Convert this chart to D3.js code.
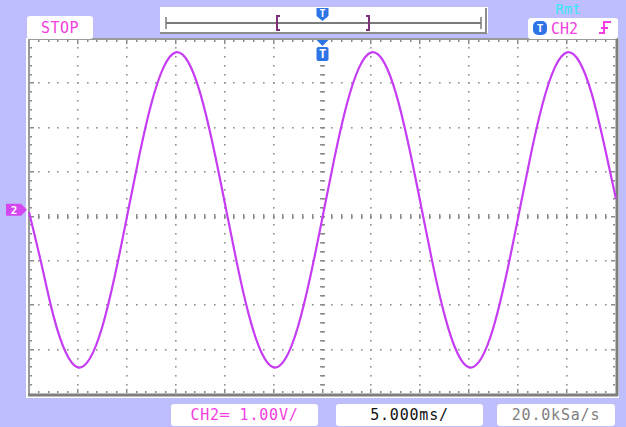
<!DOCTYPE html>
<html>
<head>
<meta charset="utf-8">
<script src="https://cdn.jsdelivr.net/npm/d3@7"></script>
<style>
  html, body { margin: 0; padding: 0; background: #bebefc; }
  svg { display: block; }
  text { font-family: "DejaVu Sans Mono", monospace; }
</style>
</head>
<body>
<svg id="chart" width="626" height="427"></svg>
<script>
// scope readout: CH2, 1.00 V/div, 5.000 ms/div
const timeMs = [-30, -28.75, -27.5, -26.25, -25, -23.75, -22.5, -21.25, -20, -18.75,
  -17.5, -16.25, -15, -13.75, -12.5, -11.25, -10, -8.75, -7.5, -6.25, -5, -3.75,
  -2.5, -1.25, 0, 1.25, 2.5, 3.75, 5, 6.25, 7.5, 8.75, 10, 11.25, 12.5, 13.75, 15,
  16.25, 17.5, 18.75, 20, 21.25, 22.5, 23.75, 25, 26.25, 27.5, 28.75, 30];
const ch2Volts = [0.10, -1.05, -2.24, -3.06, -3.40, -3.19, -2.48, -1.36, -0.02, 1.35,
  2.54, 3.36, 3.70, 3.49, 2.78, 1.66, 0.32, -1.05, -2.24, -3.06, -3.40, -3.19,
  -2.48, -1.36, -0.02, 1.35, 2.54, 3.36, 3.70, 3.49, 2.78, 1.66, 0.32, -1.05, -2.24,
  -3.06, -3.40, -3.19, -2.48, -1.36, -0.02, 1.35, 2.54, 3.36, 3.70, 3.49, 2.78, 1.66, 0.40];
const xDivs = [-30, -25, -20, -15, -10, -5, 0, 5, 10, 15, 20, 25, 30];   // 12 divisions of 5 ms
const yDivs = [-4, -3, -2, -1, 0, 1, 2, 3, 4];                           // 8 divisions of 1 V
const statusText = "STOP";
const remoteText = "Rmt";
const trigSource = "CH2";
const vScaleText = "CH2\u2550  1.00V/";
const tScaleText = "5.000ms/";
const rateText = "20.0kSa/s";

const svg = d3.select("#chart");
const pl = 29, pr = 616, pt = 39, pb = 394;

const x = d3.scaleLinear().domain([-30, 30]).range([pl, pr]);
const y = d3.scaleLinear().domain([-4, 4]).range([pb, pt]);

const magenta = "#f23ee0";
const trace = "#c63cf2";
const blue = "#2f74e6";

// plot area with bevel
svg.append("rect").attr("x", pl - 3).attr("y", pt - 1).attr("width", pr - pl + 6).attr("height", pb - pt + 5).attr("fill", "#fff");
svg.append("rect").attr("x", pl).attr("y", pt).attr("width", pr - pl).attr("height", pb - pt).attr("fill", "#fff");

// dotted grid
const minorX = d3.range(-30, 30.01, 1);
const minorY = d3.range(-4, 4.01, 0.2);
const dots = [];
xDivs.slice(1, -1).forEach(t => minorY.slice(1, -1).forEach(v => dots.push([t, v])));
yDivs.slice(1, -1).forEach(v => minorX.slice(1, -1).forEach(t => dots.push([t, v])));
svg.append("g").selectAll("rect").data(dots).join("rect")
  .attr("x", d => Math.round(x(d[0])) - 1).attr("y", d => Math.round(y(d[1])) - 1)
  .attr("width", 1.6).attr("height", 1.6).attr("fill", "#909090");

// center axes with minor ticks
const ticks = svg.append("g").attr("fill", "#8a8a8a");
minorX.slice(1, -1).forEach(t => {
  ticks.append("rect").attr("x", Math.round(x(t)) - 1).attr("y", y(0) - 2.5).attr("width", 1.5).attr("height", 5);
});
minorY.slice(1, -1).forEach(v => {
  ticks.append("rect").attr("x", x(0) - 2.5).attr("y", Math.round(y(v)) - 1).attr("width", 5).attr("height", 1.5);
});
// border ticks
minorX.slice(1, -1).forEach(t => {
  const len = (Math.abs(t % 5) < 1e-6) ? 4 : 2;
  ticks.append("rect").attr("x", Math.round(x(t)) - 1).attr("y", pt + 1).attr("width", 1.5).attr("height", len);
  ticks.append("rect").attr("x", Math.round(x(t)) - 1).attr("y", pb - 1 - len).attr("width", 1.5).attr("height", len);
});
minorY.slice(1, -1).forEach(v => {
  const len = (Math.abs(Math.round(v * 10) % 10) === 0) ? 4 : 2;
  ticks.append("rect").attr("x", pl + 1).attr("y", Math.round(y(v)) - 1).attr("width", len).attr("height", 1.5);
  ticks.append("rect").attr("x", pr - 1 - len).attr("y", Math.round(y(v)) - 1).attr("width", len).attr("height", 1.5);
});

// frame
svg.append("line").attr("x1", pl).attr("x2", pr).attr("y1", pt).attr("y2", pt).attr("stroke", "#9a9a9a").attr("stroke-width", 2);
svg.append("line").attr("x1", pl).attr("x2", pl).attr("y1", pt).attr("y2", pb).attr("stroke", "#9a9a9a").attr("stroke-width", 2);
svg.append("line").attr("x1", pr + 1).attr("x2", pr + 1).attr("y1", pt - 1).attr("y2", pb + 2).attr("stroke", "#7e7e7e").attr("stroke-width", 3);
svg.append("line").attr("x1", pl - 1).attr("x2", pr + 2).attr("y1", pb + 1).attr("y2", pb + 1).attr("stroke", "#7e7e7e").attr("stroke-width", 3);

// waveform
const samples = timeMs.map((t, i) => [t, ch2Volts[i]]);
svg.append("path").datum(samples)
  .attr("d", d3.line().x(d => x(d[0])).y(d => y(d[1])).curve(d3.curveNatural))
  .attr("fill", "none").attr("stroke", trace).attr("stroke-width", 2.2);

// trigger marker under top border
const tx = x(0);
svg.append("path").attr("d", `M${tx - 6},${pt + 1} L${tx + 6},${pt + 1} L${tx},${pt + 7} Z`).attr("fill", blue);
svg.append("rect").attr("x", tx - 6).attr("y", pt + 8).attr("width", 12).attr("height", 14).attr("rx", 2).attr("fill", blue);
svg.append("text").attr("x", tx).attr("y", pt + 19).attr("text-anchor", "middle").attr("fill", "#fff").attr("font-size", 12).attr("font-weight", "bold").text("T");

// channel 2 ground marker
const gy = y(0.15);
svg.append("path").attr("d", `M6,${gy - 6} L21,${gy - 6} L27,${gy} L21,${gy + 6} L6,${gy + 6} Z`).attr("fill", "#d447f0");
svg.append("text").attr("x", 14).attr("y", gy + 4).attr("text-anchor", "middle").attr("fill", "#fff").attr("font-size", 11).attr("font-weight", "bold").text("2");

// STOP box
svg.append("rect").attr("x", 27).attr("y", 16).attr("width", 66).attr("height", 23).attr("rx", 3).attr("fill", "#fff");
svg.append("text").attr("x", 60).attr("y", 33).attr("text-anchor", "middle").attr("fill", magenta).attr("font-size", 15).attr("letter-spacing", 0.5).text(statusText);

// horizontal position bar
svg.append("rect").attr("x", 160).attr("y", 7).attr("width", 328).attr("height", 26).attr("fill", "#fff");
svg.append("path").attr("d", "M486,8 L486,33 L160,33").attr("fill", "none").attr("stroke", "#8c8c8c").attr("stroke-width", 2);
svg.append("line").attr("x1", 166).attr("x2", 481).attr("y1", 23).attr("y2", 23).attr("stroke", "#7a7a7a").attr("stroke-width", 2);
svg.append("line").attr("x1", 166).attr("x2", 166).attr("y1", 17).attr("y2", 29).attr("stroke", "#7a7a7a").attr("stroke-width", 1.5);
svg.append("line").attr("x1", 481).attr("x2", 481).attr("y1", 17).attr("y2", 29).attr("stroke", "#7a7a7a").attr("stroke-width", 1.5);
svg.append("path").attr("d", "M280,16 L277,16 L277,30 L280,30").attr("fill", "none").attr("stroke", "#7d2f78").attr("stroke-width", 2);
svg.append("path").attr("d", "M366,16 L369,16 L369,30 L366,30").attr("fill", "none").attr("stroke", "#7d2f78").attr("stroke-width", 2);
svg.append("path").attr("d", `M${tx - 6},8 L${tx + 6},8 L${tx + 6},16 L${tx},21 L${tx - 6},16 Z`).attr("fill", blue);
svg.append("text").attr("x", tx).attr("y", 17).attr("text-anchor", "middle").attr("fill", "#fff").attr("font-size", 10).attr("font-weight", "bold").text("T");

// trigger info, top right
svg.append("text").attr("x", 568).attr("y", 14).attr("text-anchor", "middle").attr("fill", "#3ae6f8").attr("font-size", 14).text(remoteText);
svg.append("rect").attr("x", 528).attr("y", 18).attr("width", 90).attr("height", 21).attr("rx", 3).attr("fill", "#fff");
svg.append("rect").attr("x", 533).attr("y", 21).attr("width", 14).attr("height", 14).attr("rx", 5).attr("fill", blue);
svg.append("text").attr("x", 540).attr("y", 32).attr("text-anchor", "middle").attr("fill", "#fff").attr("font-size", 11).attr("font-weight", "bold").text("T");
svg.append("text").attr("x", 551).attr("y", 34).attr("fill", magenta).attr("font-size", 15).text(trigSource);
svg.append("path").attr("d", "M599,33 L604,33 L604,22 L611,22 M601,28 L608,28").attr("fill", "none").attr("stroke", magenta).attr("stroke-width", 2);

// bottom readouts
const boxes = [
  { x0: 171, x1: 318, label: vScaleText, color: magenta },
  { x0: 336, x1: 483, label: tScaleText, color: "#111" },
  { x0: 497, x1: 615, label: rateText, color: "#808080" }
];
const bottomG = svg.append("g").selectAll("g").data(boxes).join("g");
bottomG.append("rect").attr("x", d => d.x0).attr("y", 404).attr("width", d => d.x1 - d.x0).attr("height", 22).attr("rx", 3).attr("fill", "#fff");
bottomG.append("text").attr("x", d => (d.x0 + d.x1) / 2).attr("y", 420).attr("text-anchor", "middle")
  .attr("fill", d => d.color).attr("font-size", 15).attr("letter-spacing", 0.8).text(d => d.label);
</script>
</body>
</html>
